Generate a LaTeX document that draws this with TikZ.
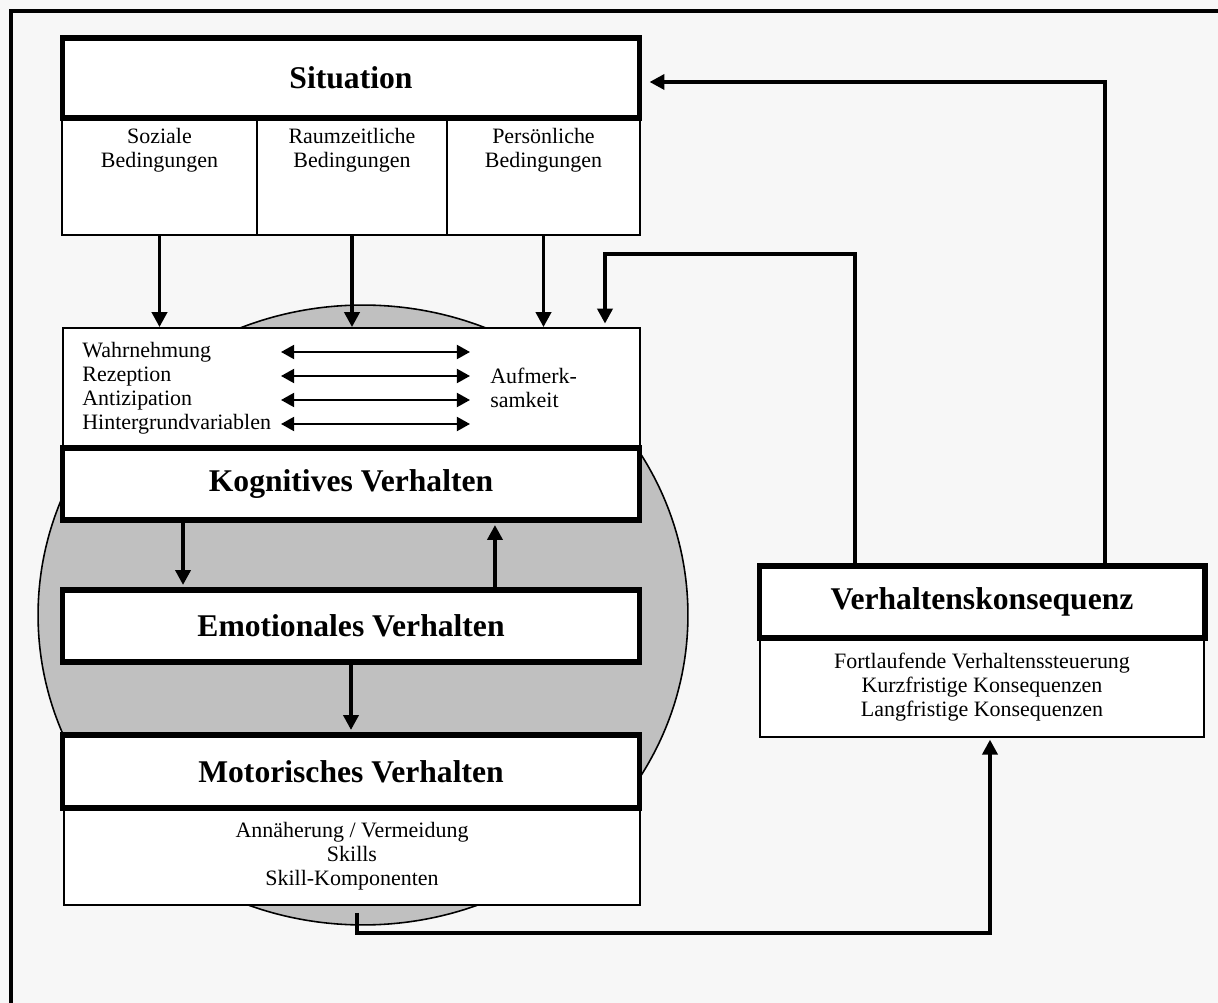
\documentclass[tikz,border=0pt]{standalone}
\usepackage{fontspec}
\setmainfont{Liberation Serif}
\usetikzlibrary{arrows.meta, positioning}
\definecolor{pagebg}{HTML}{F7F7F7}
\definecolor{ringgray}{HTML}{C0C0C0}

\begin{document}
\begin{tikzpicture}[x=0.02cm, y=-0.02cm,
  headbox/.style={draw, line width=2.9pt, fill=white, inner sep=0pt, font=\fontsize{18}{21}\selectfont\bfseries},
  infobox/.style={draw, line width=1pt, fill=white, inner sep=0pt, align=center, font=\fontsize{12.5}{13.6}\selectfont},
  smalltext/.style={inner sep=0pt, font=\fontsize{12.5}{13.6}\selectfont},
  flow/.style={line width=2.2pt, -{Triangle[length=8.5pt, width=8.5pt]}},
  twoway/.style={line width=1.2pt, {Triangle[length=7.5pt, width=8pt]}-{Triangle[length=7.5pt, width=8pt]}}]
\useasboundingbox (0,0) rectangle (1218,1003);
\fill[pagebg] (0,0) rectangle (1218,1003);
\draw[line width=2.1pt] (1218,10.7) -- (10.8,10.7) -- (10.8,1003);

% grey circle behind the three behaviour levels
\filldraw[fill=ringgray, line width=0.9pt] (363,615) ellipse [x radius=6.5cm, y radius=6.2cm];

% situation
\node[infobox, minimum width=3.9cm, minimum height=2.34cm] (soz) at (159.5,176.5) {};
\node[infobox, minimum width=3.8cm, minimum height=2.34cm] (raum) at (352,176.5) {};
\node[infobox, minimum width=3.86cm, minimum height=2.34cm] (pers) at (543.5,176.5) {};
\node[headbox, minimum width=11.56cm, minimum height=1.6cm] (sit) at (351,78) {Situation};
\node[smalltext, align=center, below=0.22cm of soz.north] (soz-t) {Soziale\\Bedingungen};
\node[smalltext, align=center, below=0.22cm of raum.north] (raum-t) {Raumzeitliche\\Bedingungen};
\node[smalltext, align=center, below=0.22cm of pers.north] (pers-t) {Persönliche\\Bedingungen};

% perception
\node[infobox, minimum width=11.54cm, minimum height=2.4cm] (wahr) at (351.5,388) {};
\foreach \y/\txt [count=\i] in {352/Wahrnehmung, 376/Rezeption, 400/Antizipation, 424/Hintergrundvariablen} {
  \node[smalltext, anchor=base west] (w\i) at (82,\y+6) {\txt};
  \coordinate (la\i) at (281,\y);
  \coordinate (ra\i) at (470,\y);
  \draw[twoway] (la\i) -- (ra\i);
}
\node[smalltext, anchor=west, align=left] (aufm) at (490,388) {Aufmerk-\\samkeit};

% behaviour levels
\node[headbox, minimum width=11.56cm, minimum height=1.44cm] (kog) at (351,484) {Kognitives Verhalten};
\node[headbox, minimum width=11.56cm, minimum height=1.44cm] (emo) at (351,626) {Emotionales Verhalten};
\node[infobox, minimum width=11.52cm, minimum height=1.94cm] (motsub) at (352,856.5) {Annäherung / Vermeidung\\Skills\\Skill-Komponenten};
\node[headbox, minimum width=11.56cm, minimum height=1.46cm] (mot) at (351,771.5) {Motorisches Verhalten};

% consequences
\node[infobox, minimum width=8.88cm, minimum height=1.98cm] (verhsub) at (982,687.5) {Fortlaufende Verhaltenssteuerung\\Kurzfristige Konsequenzen\\Langfristige Konsequenzen};
\node[headbox, minimum width=8.92cm, minimum height=1.44cm] (verh) at (982,602) {Verhaltenskonsequenz};

% arrows
\draw[flow] (soz.south) -- (soz.south |- wahr.north);
\draw[flow] (raum.south) -- (raum.south |- wahr.north);
\draw[flow] (pers.south) -- (pers.south |- wahr.north);
\draw[flow, shorten >=1.4pt] ([xshift=-3.36cm]kog.south) -- ([xshift=-3.36cm]emo.north);
\draw[flow, shorten >=1.4pt] ([xshift=2.88cm]emo.north) -- ([xshift=2.88cm]kog.south);
\draw[flow, shorten >=1.4pt] (emo.south) -- (mot.north);

\coordinate (turnA) at (605,254);
\coordinate (turnB) at (855,254);
\draw[flow, shorten >=2pt] (verh.north -| turnB) -- (turnB) -- (turnA) -- (turnA |- wahr.north);
\coordinate (turnC) at (1105,82);
\draw[flow, shorten >=4pt] (verh.north -| turnC) -- (turnC) -- (turnC -| sit.east);
\coordinate (turnD) at (357,933);
\coordinate (turnE) at (990,933);
\draw[flow, shorten <=4pt, shorten >=1pt] (motsub.south -| turnD) -- (turnD) -- (turnE) -- (turnE |- verhsub.south);
\end{tikzpicture}
\end{document}
